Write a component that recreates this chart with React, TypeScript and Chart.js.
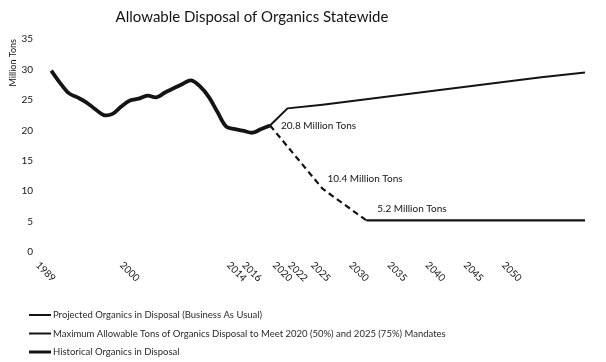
import { useEffect, useRef } from "react";
import { Chart, registerables } from "chart.js";

Chart.register(...registerables);

const chartTitle = "Allowable Disposal of Organics Statewide";
const yAxisTitle = "Million Tons";

const historicalYears = [
  1989, 1990, 1991, 1992, 1993, 1994, 1995, 1996, 1997, 1998, 1999, 2000, 2001,
  2002, 2003, 2004, 2005, 2006, 2007, 2008, 2009, 2010, 2011, 2012, 2013, 2014,
];
const historicalValues = [
  29.8, 27.8, 26.1, 25.4, 24.6, 23.5, 22.5, 22.7, 23.9, 24.9, 25.2, 25.7, 25.4,
  26.2, 26.9, 27.6, 28.2, 27.2, 25.5, 23.0, 20.6, 20.2, 19.9, 19.6, 20.2, 20.8,
];

const projectedYears = [2014, 2016, 2020, 2025, 2030, 2035, 2040, 2045, 2050];
const projectedValues = [20.8, 23.6, 24.2, 25.1, 26.0, 26.9, 27.8, 28.7, 29.5];

const mandateYears = [2014, 2020, 2025, 2050];
const mandateValues = [20.8, 10.4, 5.2, 5.2];
const mandateDashedUntil = 2025;

const xTickYears = [1989, 2000, 2014, 2016, 2020, 2022, 2025, 2030, 2035, 2040, 2045, 2050];
const yTickValues = [0, 5, 10, 15, 20, 25, 30, 35];

const seriesLabels = [
  "Projected Organics in Disposal (Business As Usual)",
  "Maximum Allowable Tons of Organics Disposal to Meet 2020 (50%) and 2025 (75%) Mandates",
  "Historical Organics in Disposal",
];

const annotationYears = [2014, 2020, 2025];
const annotationValues = [20.8, 10.4, 5.2];
const annotationTexts = ["20.8 Million Tons", "10.4 Million Tons", "5.2 Million Tons"];

const FONT = "Lato, 'Open Sans', sans-serif";
const INK = "#141414";

const toPoints = (xs: number[], ys: number[]) => xs.map((x, i) => ({ x, y: ys[i] }));

const overlayPlugin = {
  id: "overlay",
  afterDraw(chart: any) {
    const ctx = chart.ctx as CanvasRenderingContext2D;
    const xData = chart.scales.x;
    const yData = chart.scales.y;
    const xLab = chart.scales.xLabels;
    ctx.save();
    ctx.fillStyle = INK;

    // title
    ctx.font = `15px ${FONT}`;
    ctx.textAlign = "center";
    ctx.textBaseline = "middle";
    ctx.fillText(chartTitle, 252, 17);

    // rotated x tick labels
    ctx.font = `10px ${FONT}`;
    xTickYears.forEach((yr) => {
      const px = xLab.getPixelForValue(yr);
      ctx.save();
      ctx.translate(px, 260);
      ctx.rotate(Math.PI / 4);
      ctx.textAlign = "left";
      ctx.textBaseline = "top";
      ctx.fillText(String(yr), 0, 0);
      ctx.restore();
    });

    // annotations
    const offs = [
      [11, 0],
      [5, -10],
      [11, -12],
    ];
    ctx.font = `10px ${FONT}`;
    ctx.textAlign = "left";
    ctx.textBaseline = "middle";
    annotationTexts.forEach((t, i) => {
      const px = xData.getPixelForValue(annotationYears[i]);
      const py = yData.getPixelForValue(annotationValues[i]);
      ctx.fillText(t, px + offs[i][0], py + offs[i][1]);
    });

    // legend
    ctx.font = `9.5px ${FONT}`;
    chart.data.datasets.forEach((ds: any, i: number) => {
      const ly = 315 + i * 18.5;
      ctx.strokeStyle = ds.borderColor;
      ctx.lineWidth = i === 2 ? 3 : 2;
      ctx.setLineDash([]);
      ctx.beginPath();
      ctx.moveTo(29, ly);
      ctx.lineTo(51, ly);
      ctx.stroke();
      ctx.fillStyle = "#2a2a2a";
      ctx.fillText(ds.label, 53, ly);
    });
    ctx.restore();
  },
};

export default function App() {
  const canvasRef = useRef<HTMLCanvasElement | null>(null);

  useEffect(() => {
    if (!canvasRef.current) return;
    const chart = new Chart(canvasRef.current, {
      type: "line",
      data: {
        datasets: [
          {
            label: seriesLabels[0],
            data: toPoints(projectedYears, projectedValues),
            borderColor: INK,
            borderWidth: 2,
            pointRadius: 0,
            tension: 0,
          },
          {
            label: seriesLabels[1],
            data: toPoints(mandateYears, mandateValues),
            borderColor: INK,
            borderWidth: 2.2,
            pointRadius: 0,
            tension: 0,
            segment: {
              borderDash: (c: any) => (c.p0.parsed.x < mandateDashedUntil ? [6, 4] : undefined),
            },
          },
          {
            label: seriesLabels[2],
            data: toPoints(historicalYears, historicalValues),
            borderColor: INK,
            borderWidth: 3.8,
            pointRadius: 0,
            tension: 0.35,
          },
        ],
      },
      options: {
        responsive: true,
        maintainAspectRatio: false,
        animation: false,
        layout: { padding: { top: 39, bottom: 110, left: 0, right: 11 } },
        plugins: {
          legend: { display: false },
          title: { display: false },
          tooltip: { enabled: false },
        },
        scales: {
          x: {
            type: "linear",
            display: false,
            min: 1987.486,
            max: 2051.143,
          },
          xLabels: {
            type: "linear",
            display: false,
            position: "bottom",
            min: 1988.607,
            max: 2061.51,
          },
          y: {
            type: "linear",
            min: 0,
            max: 35,
            afterFit: (s: any) => {
              s.width = 38;
            },
            afterBuildTicks: (s: any) => {
              s.ticks = yTickValues.map((v) => ({ value: v }));
            },
            grid: { display: false, drawTicks: false },
            border: { display: false },
            ticks: {
              padding: 5,
              color: INK,
              font: { family: FONT, size: 10 },
            },
            title: {
              display: true,
              text: yAxisTitle,
              align: "end",
              color: INK,
              font: { family: FONT, size: 9 },
              padding: { top: 8, bottom: 0 },
            },
          },
        },
      },
      plugins: [overlayPlugin],
    } as any);
    return () => chart.destroy();
  }, []);

  return (
    <div style={{ position: "absolute", left: 0, top: 0, width: 606, height: 362, background: "#fff" }}>
      <canvas ref={canvasRef} />
    </div>
  );
}
